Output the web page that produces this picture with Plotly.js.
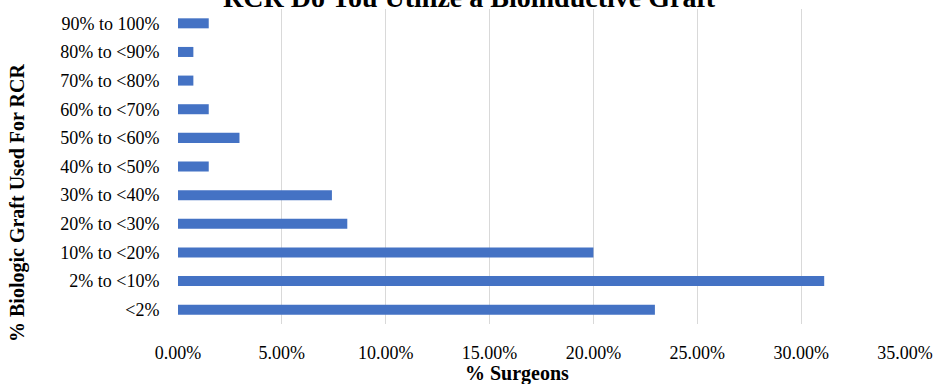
<!DOCTYPE html>
<html>
<head>
<meta charset="utf-8">
<script src="https://cdn.plot.ly/plotly-3.0.1.min.js"></script>
<style>
  html, body { margin: 0; padding: 0; background: #ffffff; }
  #chart { width: 934px; height: 384px; }
</style>
</head>
<body>
<div id="chart"></div>
<script>
// Share of surgeons by the percentage of rotator cuff repairs using a biologic graft
const categories = [
  "<2%", "2% to <10%", "10% to <20%", "20% to <30%", "30% to <40%",
  "40% to <50%", "50% to <60%", "60% to <70%", "70% to <80%", "80% to <90%", "90% to 100%"
];
const surgeonShare = [
  0.2296, 0.3111, 0.2000, 0.0815, 0.0741,
  0.0148, 0.0296, 0.0148, 0.0074, 0.0074, 0.0148
];
const xTickValues = [0, 0.05, 0.10, 0.15, 0.20, 0.25, 0.30, 0.35];

const chartTitle = "RCR Do You Utilize a Bioinductive Graft";
const xTitle = "% Surgeons";
const yTitle = "% Biologic Graft Used For RCR";

const serif = "Liberation Serif, Times New Roman, serif";

const trace = {
  type: "bar",
  orientation: "h",
  x: surgeonShare,
  y: categories,
  marker: { color: "#4472C4", line: { width: 0 } },
  hoverinfo: "skip"
};

const layout = {
  width: 934,
  height: 384,
  margin: { l: 178, r: 29, t: 9, b: 60, pad: 0 },
  paper_bgcolor: "#ffffff",
  plot_bgcolor: "#ffffff",
  bargap: 0.65,
  showlegend: false,
  font: { family: serif, size: 18, color: "#000000" },
  xaxis: {
    range: [0, 0.35],
    tickvals: xTickValues,
    tickformat: ".2%",
    showgrid: true,
    gridcolor: "#d9d9d9",
    gridwidth: 1,
    zeroline: false,
    showline: false,
    ticks: "outside",
    ticklen: 12,
    tickcolor: "rgba(0,0,0,0)",
    tickfont: { family: serif, size: 18, color: "#000000" },
    fixedrange: true
  },
  yaxis: {
    type: "category",
    categoryorder: "array",
    categoryarray: categories,
    showgrid: false,
    zeroline: false,
    showline: false,
    ticks: "outside",
    ticklen: 14,
    tickcolor: "rgba(0,0,0,0)",
    tickfont: { family: serif, size: 18, color: "#000000" },
    fixedrange: true
  },
  annotations: [
    {
      // chart title sits at the very top edge of the page
      text: chartTitle,
      xref: "paper", yref: "paper",
      x: 0.401, y: 1.038,
      xanchor: "center", yanchor: "middle",
      showarrow: false,
      font: { family: serif, size: 28, weight: "bold", color: "#000000" }
    },
    {
      text: xTitle,
      xref: "paper", yref: "paper",
      x: 0.466, y: -0.156,
      xanchor: "center", yanchor: "middle",
      showarrow: false,
      font: { family: serif, size: 20, weight: "bold", color: "#000000" }
    },
    {
      text: yTitle,
      xref: "paper", yref: "paper",
      x: -0.2215, y: 0.384,
      xanchor: "center", yanchor: "middle",
      textangle: -90,
      showarrow: false,
      font: { family: serif, size: 20, weight: "bold", color: "#000000" }
    }
  ]
};

Plotly.newPlot("chart", [trace], layout, { displayModeBar: false, staticPlot: true });
</script>
</body>
</html>
